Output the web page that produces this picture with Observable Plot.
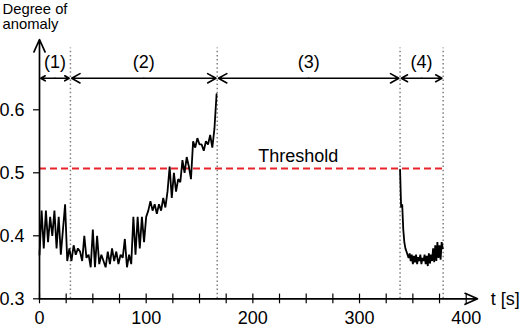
<!DOCTYPE html>
<html>
<head>
<meta charset="utf-8">
<script src="https://cdn.jsdelivr.net/npm/d3@7"></script>
<script src="https://cdn.jsdelivr.net/npm/@observablehq/plot@0.6"></script>
<style>
  html, body { margin: 0; padding: 0; background: #fff; }
  #chart { width: 520px; height: 327px; }
</style>
</head>
<body>
<div id="chart"></div>
<script>
// Segment 1: t = 0..166 s, every 2 s
const seg1Start = 0, seg1Step = 2;
const seg1Values = [
  0.37, 0.44, 0.38, 0.44, 0.39, 0.43, 0.40, 0.44, 0.38, 0.43,
  0.37, 0.41, 0.45, 0.36, 0.38, 0.36, 0.385, 0.37, 0.38, 0.375,
  0.36, 0.40, 0.365, 0.37, 0.35, 0.41, 0.35, 0.40, 0.355, 0.37,
  0.36, 0.35, 0.375, 0.355, 0.38, 0.36, 0.375, 0.355, 0.37, 0.365,
  0.395, 0.35, 0.37, 0.355, 0.43, 0.37, 0.43, 0.38, 0.43, 0.39,
  0.43, 0.44, 0.455, 0.44, 0.45, 0.435, 0.45, 0.44, 0.46, 0.445,
  0.47, 0.51, 0.46, 0.50, 0.47, 0.49, 0.485, 0.52, 0.50, 0.525,
  0.51, 0.49, 0.55, 0.54, 0.555, 0.545, 0.545, 0.535, 0.55, 0.545,
  0.56, 0.54, 0.57, 0.625
];
// Segment 2: t = 338..378 s, every 1 s
const seg2Start = 338, seg2Step = 1;
const seg2Values = [
  0.505, 0.445, 0.45, 0.41, 0.39, 0.38, 0.375, 0.37, 0.365, 0.372,
  0.36, 0.37, 0.355, 0.368, 0.358, 0.37, 0.355, 0.366, 0.36, 0.37,
  0.355, 0.365, 0.36, 0.37, 0.355, 0.368, 0.352, 0.372, 0.356, 0.37,
  0.36, 0.38, 0.358, 0.385, 0.36, 0.39, 0.365, 0.385, 0.362, 0.39,
  0.38
];
const threshold = 0.507;
const phaseBounds = [0, 29, 166.6, 338, 378.4];
const phaseLabels = ["(1)", "(2)", "(3)", "(4)"];
const xTicks = [0, 25, 50, 75, 100, 125, 150, 175, 200, 225, 250, 275, 300, 325, 350, 375, 400];
const xLabels = [0, 100, 200, 300, 400];
const yTicks = [0.3, 0.4, 0.5, 0.6];
const yLabelLines = ["Degree of", "anomaly"];
const xLabel = "t [s]";
const thresholdLabel = "Threshold";

const seg1 = seg1Values.map((v, i) => ({t: seg1Start + i * seg1Step, v}));
const seg2 = seg2Values.map((v, i) => ({t: seg2Start + i * seg2Step, v}));
const phases = phaseLabels.map((label, i) => ({label, a: phaseBounds[i], b: phaseBounds[i + 1]}));
const dividers = phaseBounds.slice(1);

const xMax = 400, yMin = 0.3, yMax = 0.7;
const font = "'Liberation Sans', Arial, sans-serif";

const chart = Plot.plot({
  width: 520,
  height: 327,
  marginLeft: 39,
  marginRight: 54.3,
  marginTop: 46.3,
  marginBottom: 28.7,
  style: {fontFamily: font, background: "#fff", color: "#000"},
  x: {domain: [0, xMax]},
  y: {domain: [yMin, yMax]},
  marks: [
    // dotted phase dividers
    Plot.ruleX(dividers, {y1: yMin, y2: 0.698, stroke: "#808080", strokeWidth: 1.5, strokeDasharray: "1.5,2.6"}),
    // threshold line
    Plot.ruleY([threshold], {x1: 0, x2: phaseBounds[4], stroke: "#e8242b", strokeWidth: 2, strokeDasharray: "7,4"}),
    Plot.text([thresholdLabel], {x: 242.5, y: 0.526, fontSize: 18, fill: "#000"}),
    // data lines
    Plot.line(seg1, {x: "t", y: "v", stroke: "#000", strokeWidth: 1.8, strokeLinejoin: "miter"}),
    Plot.line(seg2, {x: "t", y: "v", stroke: "#000", strokeWidth: 1.8, strokeLinejoin: "miter"}),
    // phase double arrows
    Plot.arrow(phases, {x1: d => (d.a + d.b) / 2, x2: "a", y1: 0.65, y2: 0.65, insetEnd: 1.2, headLength: 9, headAngle: 58, strokeWidth: 1.6, stroke: "#000"}),
    Plot.arrow(phases, {x1: d => (d.a + d.b) / 2, x2: "b", y1: 0.65, y2: 0.65, insetEnd: 1.2, headLength: 9, headAngle: 58, strokeWidth: 1.6, stroke: "#000"}),
    Plot.text(phases, {x: d => (d.a + d.b) / 2, y: 0.675, text: "label", fontSize: 18, fill: "#000"}),
    // axes with arrowheads
    Plot.arrow([0], {x1: 0, x2: 410.6, y1: yMin, y2: yMin, headLength: 12, headAngle: 48, strokeWidth: 1.7, stroke: "#000"}),
    Plot.arrow([0], {x1: 0, x2: 0, y1: yMin, y2: 0.7116, headLength: 12, headAngle: 48, strokeWidth: 1.7, stroke: "#000"}),
    Plot.ruleX(xTicks, {y1: yMin, y2: yMin + 0.0075, stroke: "#000", strokeWidth: 1.2}),
    Plot.axisX({ticks: xTicks, tickSize: 5, tickPadding: 7, fontSize: 18, tickFormat: d => xLabels.includes(d) ? String(d) : "", label: null, strokeWidth: 1.2}),
    Plot.axisY({ticks: yTicks, tickSize: 6, tickPadding: 9, fontSize: 18, tickFormat: d => d.toFixed(1), label: null, strokeWidth: 1.2}),
    Plot.text([xLabel], {x: 423, y: yMin, textAnchor: "start", lineAnchor: "middle", fontSize: 18, fill: "#000"}),
    // y-axis title, two lines
    Plot.text([yLabelLines[0]], {frameAnchor: "top-left", dx: -37, dy: -32.5, textAnchor: "start", lineAnchor: "bottom", fontSize: 14.8, fill: "#000"}),
    Plot.text([yLabelLines[1]], {frameAnchor: "top-left", dx: -37, dy: -17.5, textAnchor: "start", lineAnchor: "bottom", fontSize: 14.8, fill: "#000"})
  ]
});
document.getElementById("chart").appendChild(chart);
</script>
</body>
</html>
